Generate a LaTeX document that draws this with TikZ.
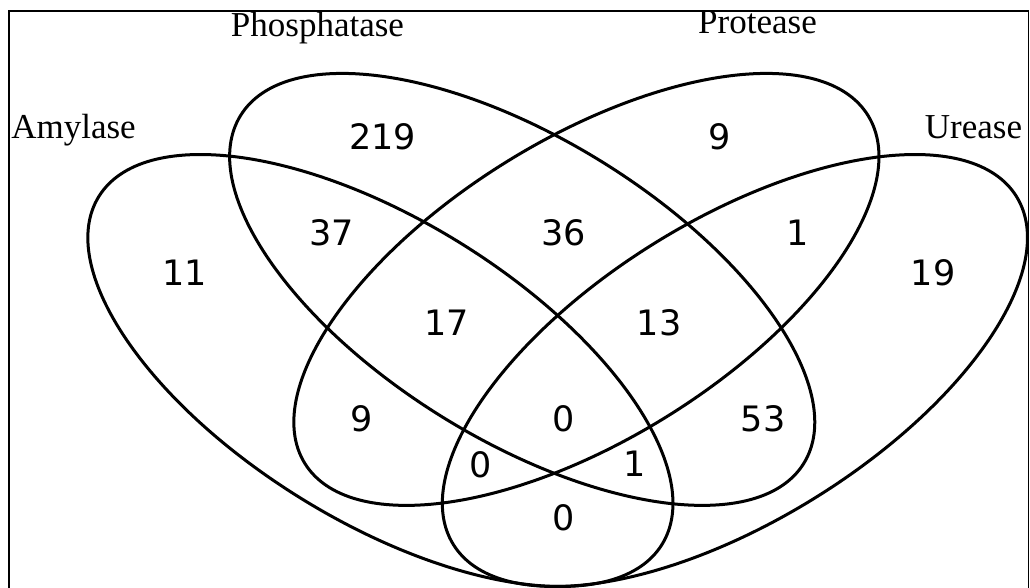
\documentclass[tikz,border=0pt]{standalone}
\usepackage{fontspec}
\setmainfont{Liberation Serif}
\newfontfamily\numfont{DejaVu Sans}
\begin{document}
\begin{tikzpicture}[x=1pt,y=-1pt,
  venn/.style={line width=3pt},
  frameline/.style={line width=1.8pt},
  setlabel/.style={font=\fontsize{35}{40}\selectfont, inner sep=0pt, anchor=base},
  count/.style={font=\numfont\fontsize{35}{40}\selectfont, inner sep=0pt, anchor=base}]
\useasboundingbox (0,0) rectangle (1030,588);
\fill[white] (0,0) rectangle (1030,588);
% frame (open at the bottom)
\coordinate (fbl) at (9,588);
\coordinate (ftl) at (9,11);
\coordinate (ftr) at (1028.5,11);
\coordinate (fbr) at (1028.5,588);
\draw[frameline] (fbl) -- (ftl) -- (ftr) -- (fbr);
% ellipses
\coordinate (cA) at (380.4,370.5);
\coordinate (cP) at (522.2,289.4);
\coordinate (cQ) at (586.4,289.4);
\coordinate (cU) at (734.9,370.5);
\draw[venn, rotate around={-31.7:(cA)}] (cA) ellipse [x radius=331pt, y radius=150.5pt];
\draw[venn, rotate around={-31.7:(cP)}] (cP) ellipse [x radius=331pt, y radius=150.5pt];
\draw[venn, rotate around={31.7:(cQ)}] (cQ) ellipse [x radius=331pt, y radius=150.5pt];
\draw[venn, rotate around={31.7:(cU)}] (cU) ellipse [x radius=331pt, y radius=150.5pt];
% set labels
\node[setlabel] (lA) at (73.5,138.3) {Amylase};
\node[setlabel] (lP) at (317.5,36.7) {Phosphatase};
\node[setlabel] (lQ) at (757.5,33.3) {Protease};
\node[setlabel] (lU) at (973.5,138.3) {Urease};
% counts
\node[count] (n219) at (382.5,149.3) {219};
\node[count] (n9a) at (720,149.3) {9};
\node[count] (n37) at (331.7,245) {37};
\node[count] (n36) at (564,245) {36};
\node[count] (n1a) at (798,245) {1};
\node[count] (n11) at (185,285) {11};
\node[count] (n19) at (933,285) {19};
\node[count] (n17) at (446.7,335) {17};
\node[count] (n13) at (659,335) {13};
\node[count] (n9b) at (361.7,431.7) {9};
\node[count] (n0a) at (563.8,431.7) {0};
\node[count] (n53) at (763,431.7) {53};
\node[count] (n0b) at (480.5,477.5) {0};
\node[count] (n1b) at (635,476) {1};
\node[count] (n0c) at (563.8,530) {0};
\end{tikzpicture}
\end{document}
